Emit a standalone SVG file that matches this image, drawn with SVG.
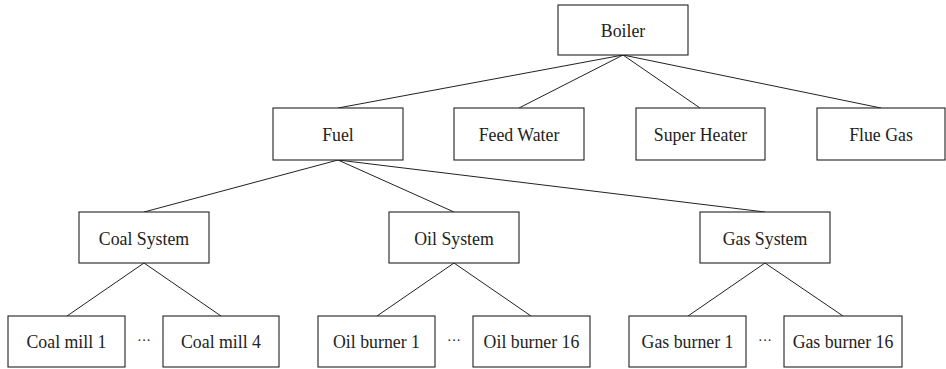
<svg xmlns="http://www.w3.org/2000/svg" width="946" height="369" viewBox="0 0 946 369">
<style>
.n rect{fill:#fff;stroke:#222;stroke-width:1.1}
text{font-family:"Liberation Serif","Times New Roman",serif;font-size:17.8px;fill:#222;text-anchor:middle}
.c line{stroke:#222;stroke-width:1}
.d{font-size:14px}
</style>
<rect width="946" height="369" fill="#fff"/>
<g class="c" id="connectors">
<line x1="623" y1="55" x2="338" y2="108"/>
<line x1="623" y1="55" x2="519" y2="108"/>
<line x1="623" y1="55" x2="700" y2="108"/>
<line x1="623" y1="55" x2="881" y2="108"/>
<line x1="338" y1="160" x2="144" y2="212"/>
<line x1="338" y1="160" x2="454" y2="212"/>
<line x1="338" y1="160" x2="765" y2="212"/>
<line x1="144" y1="263" x2="67" y2="316"/>
<line x1="144" y1="263" x2="221" y2="316"/>
<line x1="454" y1="263" x2="377" y2="316"/>
<line x1="454" y1="263" x2="531" y2="316"/>
<line x1="765" y1="263" x2="688" y2="316"/>
<line x1="765" y1="263" x2="843" y2="316"/>
</g>
<g class="n" id="boiler"><rect x="558" y="5" width="130" height="50"/><text x="623" y="37">Boiler</text></g>
<g class="n" id="fuel"><rect x="273" y="108" width="130" height="52"/><text x="338" y="141">Fuel</text></g>
<g class="n" id="feedwater"><rect x="454" y="108" width="130" height="52"/><text x="519" y="141">Feed Water</text></g>
<g class="n" id="superheater"><rect x="636" y="108" width="129" height="52"/><text x="700.5" y="141">Super Heater</text></g>
<g class="n" id="fluegas"><rect x="817" y="108" width="128" height="52"/><text x="881" y="141">Flue Gas</text></g>
<g class="n" id="coalsystem"><rect x="79" y="212" width="130" height="51"/><text x="144" y="245">Coal System</text></g>
<g class="n" id="oilsystem"><rect x="389" y="212" width="130" height="51"/><text x="454" y="245">Oil System</text></g>
<g class="n" id="gassystem"><rect x="700" y="212" width="130" height="51"/><text x="765" y="245">Gas System</text></g>
<g class="n" id="coalmill1"><rect x="8" y="316" width="117" height="51"/><text x="66.5" y="348">Coal mill 1</text></g>
<g class="n" id="coalmill4"><rect x="163" y="316" width="116" height="51"/><text x="221" y="348">Coal mill 4</text></g>
<g class="n" id="oilburner1"><rect x="318" y="316" width="117" height="51"/><text x="376.5" y="348">Oil burner 1</text></g>
<g class="n" id="oilburner16"><rect x="473" y="316" width="117" height="51"/><text x="531.5" y="348">Oil burner 16</text></g>
<g class="n" id="gasburner1"><rect x="629" y="316" width="117" height="51"/><text x="687.5" y="348">Gas burner 1</text></g>
<g class="n" id="gasburner16"><rect x="784" y="316" width="118" height="51"/><text x="843" y="348">Gas burner 16</text></g>
<g id="dots">
<text class="d" x="144" y="345">···</text>
<text class="d" x="454" y="345">···</text>
<text class="d" x="765" y="345">···</text>
</g>
</svg>
